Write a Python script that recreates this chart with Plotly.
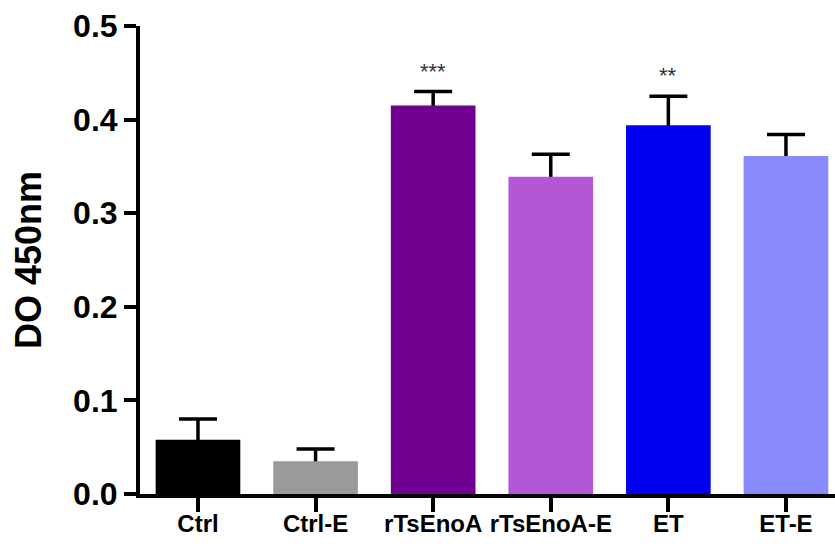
import plotly.graph_objects as go

categories = ["Ctrl", "Ctrl-E", "rTsEnoA", "rTsEnoA-E", "ET", "ET-E"]
means = [0.058, 0.035, 0.415, 0.339, 0.394, 0.361]
sem = [0.022, 0.013, 0.015, 0.024, 0.031, 0.023]
significance = ["", "", "***", "", "**", ""]
bar_colors = ["#000000", "#9a9a9c", "#700090", "#b357d6", "#0000f0", "#8a8aff"]
y_ticks = [0.0, 0.1, 0.2, 0.3, 0.4, 0.5]

FONT = "Arial, Liberation Sans, Helvetica, sans-serif"

fig = go.Figure()

# error bars (drawn underneath, lower half hidden by the bars)
fig.add_trace(go.Bar(
    x=categories, y=means,
    marker=dict(color="rgba(0,0,0,0)", line=dict(width=0)),
    error_y=dict(type="data", array=sem, symmetric=True,
                 color="#000000", thickness=3.5, width=19),
    width=0.72, showlegend=False, hoverinfo="skip",
))

fig.add_trace(go.Bar(
    x=categories, y=means,
    marker=dict(color=bar_colors, line=dict(width=0)),
    width=0.72, showlegend=False,
))

for cat, m, e, s in zip(categories, means, sem, significance):
    if s:
        fig.add_annotation(
            x=cat, y=m + e, xref="x", yref="y", text=s, showarrow=False,
            yanchor="bottom", yshift=6,
            font=dict(family=FONT, size=22, color="#333333"),
        )

fig.update_layout(
    width=835, height=548,
    margin=dict(l=140, r=0, t=26, b=54),
    paper_bgcolor="white", plot_bgcolor="white",
    barmode="overlay",
    font=dict(family=FONT, color="#000000"),
)

fig.update_xaxes(
    range=[-0.493, 5.417],
    showline=True, linecolor="#000000", linewidth=4,
    ticks="outside", ticklen=14, tickwidth=4, tickcolor="#000000",
    ticklabelstandoff=-9,
    tickfont=dict(family=FONT, size=24, color="#000000", weight="bold"),
    showgrid=False, zeroline=False,
)

fig.update_yaxes(
    range=[0, 0.5],
    tickvals=y_ticks, ticktext=[f"{v:.1f}" for v in y_ticks],
    showline=True, linecolor="#000000", linewidth=4,
    ticks="outside", ticklen=12, tickwidth=4, tickcolor="#000000",
    tickfont=dict(family=FONT, size=32, color="#000000", weight="bold"),
    showgrid=False, zeroline=False,
    title=dict(text="DO 450nm", standoff=22,
               font=dict(family=FONT, size=36, color="#000000", weight="bold")),
)

fig.write_html("out.html")
